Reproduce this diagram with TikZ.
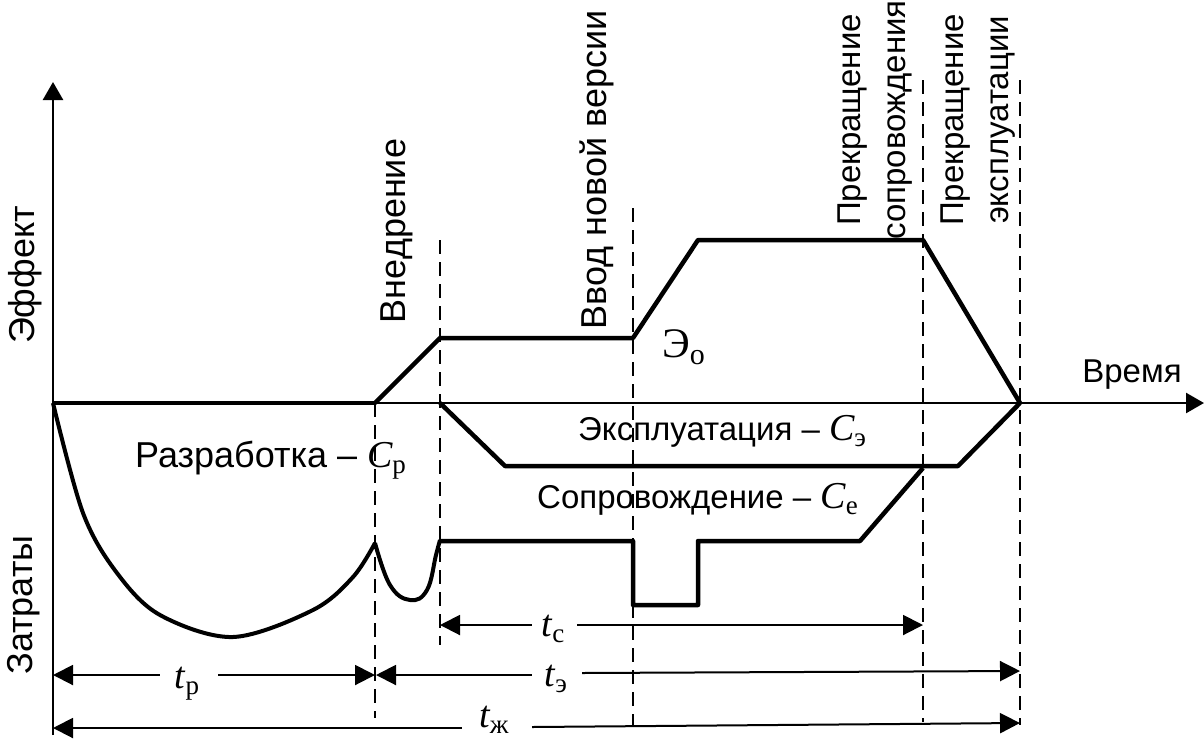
\documentclass[tikz,border=0pt]{standalone}
\usepackage{fontspec}
\setmainfont{Liberation Sans}
\newfontfamily\tnr{Liberation Serif}
\usetikzlibrary{arrows.meta}
\newcommand\mysym[2]{{\tnr\itshape\fontsize{38}{40}\selectfont #1}{\tnr\fontsize{27}{28}\selectfont\raisebox{-0.25em}{#2}}}
\begin{document}
\begin{tikzpicture}[x=1pt,y=-1pt,
  thickc/.style={line width=4.5pt, line join=round},
  curvec/.style={line width=4pt, line join=round},
  axisl/.style={line width=2.5pt},
  dashl/.style={line width=2.2pt, dash pattern=on 14pt off 8pt},
  diml/.style={line width=2pt},
  lbl/.style={font=\fontsize{33}{45}\selectfont, inner sep=0pt},
  biglbl/.style={font=\fontsize{36}{42}\selectfont, inner sep=0pt},
  rlbl/.style={lbl, rotate=90, align=center},
  rbig/.style={biglbl, rotate=90},
  sym/.style={inner sep=0pt}
]
\useasboundingbox (0,0) rectangle (1204,740);

% axes
\coordinate (O) at (53,403);
\coordinate (Ytop) at (53,82);
\coordinate (Ybot) at (53,735);
\coordinate (Xend) at (1204,403);
\draw[axisl,-{Triangle[length=18pt,width=20pt]}] (Ybot) -- (Ytop);
\draw[axisl,-{Triangle[length=18pt,width=20pt]}] (O) -- (Xend);

% key points
\coordinate (A) at (375,403);
\coordinate (B) at (440,403);
\coordinate (E) at (1020,403);

% dashed verticals
\coordinate (d1t) at (375,403); \coordinate (d1b) at (375,718);
\coordinate (d2t) at (440,240); \coordinate (d2b) at (440,645);
\coordinate (d3t) at (633,208); \coordinate (d3b) at (633,727);
\coordinate (d4t) at (923,80);  \coordinate (d4b) at (923,722);
\coordinate (d5t) at (1020,80); \coordinate (d5b) at (1020,725);
\foreach \i in {1,...,5} {\draw[dashl] (d\i t) -- (d\i b);}

% development baseline (thick)
\draw[thickc] (O) -- (A);

% effect curve
\coordinate (e1) at (440,338);
\coordinate (e2) at (633,338);
\coordinate (e3) at (698,240);
\coordinate (e4) at (923,240);
\draw[thickc] (A) -- (e1) -- (e2) -- (e3) -- (e4) -- (E);

% exploitation
\coordinate (x1) at (505,466);
\coordinate (x2) at (958,466);
\draw[thickc] (B) -- (x1) -- (x2) -- (E);

% support
\coordinate (s0) at (440,541);
\coordinate (s1) at (633,541);
\coordinate (s2) at (633,605);
\coordinate (s3) at (698,605);
\coordinate (s4) at (698,541);
\coordinate (s5) at (860,541);
\coordinate (s6) at (923,468);
\draw[thickc] (s0) -- (s1) -- (s2) -- (s3) -- (s4) -- (s5) -- (s6);

% development curve
\coordinate (p) at (375,543);
\draw[curvec] plot[smooth, tension=0.55] coordinates {(53,403) (83,513) (117,573) (160,615) (233,637) (313,610) (353,577) (375,543)};
\draw[curvec] plot[smooth, tension=0.7] coordinates {(375,543) (390,585) (410,600) (427,590) (436,555) (440,540)};

% labels
\node[rbig] (eff) at (25,275) {Эффект};
\node[rbig] (zat) at (24,605) {Затраты};
\node[rbig] (vned) at (397,231) {Внедрение};
\node[rbig] (vvod) at (597,170) {Ввод новой версии};
\node[rlbl] (pss) at (875,120) {Прекращение\\сопровождения};
\node[rlbl] (pse) at (978,120) {Прекращение\\эксплуатации};
\node[lbl] (time) at (1132,375) {Время};
\node[biglbl, anchor=base west] (razr) at (135,467) {Разработка – \mysym{C}{р}};
\node[lbl, anchor=base west] (expl) at (578,440) {Эксплуатация – \mysym{C}{э}};
\node[lbl, anchor=base west] (sopr) at (537,508) {Сопровождение – \mysym{C}{е}};
\node[sym, anchor=base west] (Eo) at (662,357) {{\tnr\fontsize{42}{44}\selectfont Э}{\tnr\fontsize{30}{32}\selectfont\raisebox{-0.25em}{о}}};

% dimension lines
\node[sym, anchor=base] (tp) at (187,688) {\mysym{t}{р}};
\coordinate (tpL) at (53,675); \coordinate (tpl) at (160,675);
\coordinate (tpr) at (218,675); \coordinate (tpR) at (375,675);
\draw[diml,{Triangle[length=20pt,width=20pt]}-] (tpL) -- (tpl);
\draw[diml,-{Triangle[length=20pt,width=20pt]}] (tpr) -- (tpR);

\node[sym, anchor=base] (te) at (556,686) {\mysym{t}{э}};
\coordinate (teL) at (376,675); \coordinate (tel) at (532,675);
\coordinate (ter) at (582,673); \coordinate (teR) at (1020,671);
\draw[diml,{Triangle[length=20pt,width=20pt]}-] (teL) -- (tel);
\draw[diml,-{Triangle[length=20pt,width=20pt]}] (ter) -- (teR);

\node[sym, anchor=base] (tc) at (553,636) {\mysym{t}{с}};
\coordinate (tcL) at (440,625); \coordinate (tcl) at (532,625);
\coordinate (tcr) at (577,625); \coordinate (tcR) at (923,625);
\draw[diml,{Triangle[length=20pt,width=20pt]}-] (tcL) -- (tcl);
\draw[diml,-{Triangle[length=20pt,width=20pt]}] (tcr) -- (tcR);

\node[sym, anchor=base] (tzh) at (494,727) {\mysym{t}{ж}};
\coordinate (tzL) at (53,728); \coordinate (tzl) at (462,728);
\coordinate (tzr) at (532,727); \coordinate (tzR) at (1020,723);
\draw[diml,{Triangle[length=20pt,width=20pt]}-] (tzL) -- (tzl);
\draw[diml,-{Triangle[length=20pt,width=20pt]}] (tzr) -- (tzR);
\end{tikzpicture}
\end{document}
